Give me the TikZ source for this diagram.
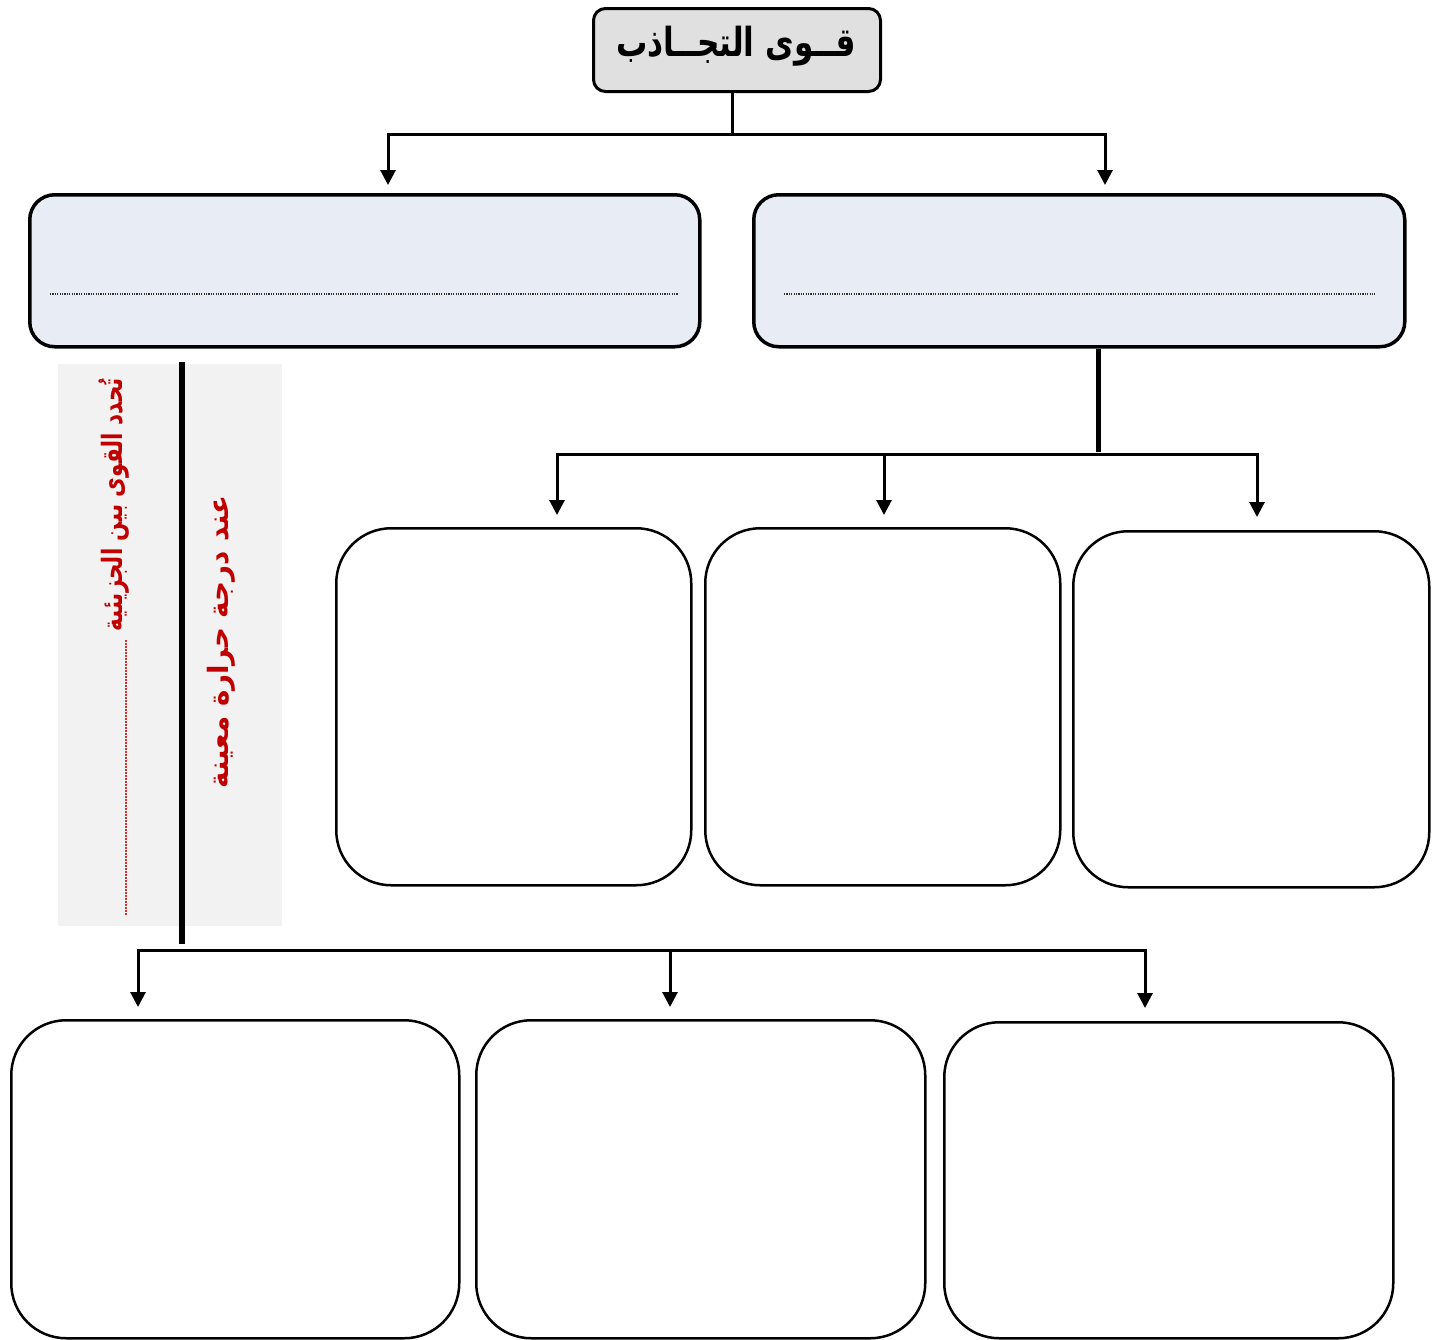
\documentclass[tikz,border=0pt]{standalone}
\usepackage{fontspec}
\TeXXeTstate=1
\newfontfamily\arabicfont[Script=Arabic]{DejaVu Sans}
\usetikzlibrary{arrows.meta,calc}
\definecolor{titlefill}{HTML}{E0E0E0}
\definecolor{bluefill}{HTML}{E8EDF5}
\definecolor{panelfill}{HTML}{F2F2F2}
\definecolor{darkred}{HTML}{C00000}
\definecolor{dotgray}{HTML}{303030}
\tikzset{
  titlebox/.style={draw, line width=3pt, fill=titlefill, rounded corners=12pt, anchor=north west, inner sep=0pt},
  bluebox/.style={draw, line width=3.5pt, fill=bluefill, rounded corners=25pt, anchor=north west, inner sep=0pt},
  whitebox/.style={draw, line width=2.5pt, fill=white, rounded corners=55pt, anchor=north west, inner sep=0pt},
  conn/.style={line width=3pt, -{Triangle[length=15pt,width=15pt]}},
  plainline/.style={line width=3pt},
  fillline/.style={draw=dotgray, line width=1.5pt, dash pattern=on 1.2pt off 1.2pt},
  redtext/.style={text=darkred, rotate=90, inner sep=0pt, font=\arabicfont\bfseries\fontsize{28}{30}\selectfont}
}
\begin{document}
\begin{tikzpicture}[x=1pt,y=-1pt]
\useasboundingbox (0,0) rectangle (1438,1339);
\fill[white] (0,0) rectangle (1438,1339);

% title
\node[titlebox, minimum width=287pt, minimum height=83pt] (title) at (592,7) {};
\node[font=\arabicfont\bfseries\fontsize{40}{46}\selectfont] (titletext) at (736,46) {\scalebox{0.78}[1]{\beginR قــوى التجــاذب\endR}};

% second row
\node[bluebox, minimum width=670pt, minimum height=152pt] (lbox) at (28,193) {};
\node[bluebox, minimum width=651pt, minimum height=152pt] (rbox) at (752,193) {};
\draw[fillline] (50,294) -- (678,294);
\draw[fillline] (784,294) -- (1375,294);

% connectors from title
\coordinate (j1) at (732,134);
\coordinate (a1) at (388,185);
\coordinate (a2) at (1105,185);
\draw[plainline] (title.south -| j1) -- (j1);
\draw[conn] (j1) -| (a1);
\draw[conn] (j1) -| (a2);

% right branch boxes
\node[whitebox, minimum width=355pt, minimum height=357pt] (r1) at (335,527) {};
\node[whitebox, minimum width=355pt, minimum height=357pt] (r2) at (704,527) {};
\node[whitebox, minimum width=356pt, minimum height=356pt] (r3) at (1072,530) {};
\coordinate (j2) at (1098,454);
\coordinate (b1) at (557,515);
\coordinate (b2) at (884,515);
\coordinate (b3) at (1257,517);
\draw[line width=5pt] (rbox.south -| j2) -- (1098,452);
\draw[conn] (j2) -| (b1);
\draw[conn] (j2) -| (b2);
\draw[conn] (j2) -| (b3);

% side panel
\fill[panelfill] (58,364) rectangle (282,926);
\node[redtext] (t1) at (114,505) {\scalebox{0.77}[1]{\beginR تُحدد القوى بين الجزيئية\endR}};
\draw[darkred!80, line width=1.5pt, dash pattern=on 1.5pt off 1.5pt] (126,640) -- (126,915);
\node[redtext] (t2) at (221,642) {\scalebox{0.99}[1]{\beginR عند درجة حرارة معينة\endR}};
\draw[line width=6pt] (182,362) -- (182,944);

% bottom boxes
\node[whitebox, minimum width=448pt, minimum height=318pt] (d1) at (10,1019) {};
\node[whitebox, minimum width=449pt, minimum height=318pt] (d2) at (475,1019) {};
\node[whitebox, minimum width=449pt, minimum height=316pt] (d3) at (943,1021) {};
\coordinate (j3) at (182,950);
\coordinate (c1) at (138,1007);
\coordinate (c2) at (670,1007);
\coordinate (c3) at (1145,1008);
\draw[conn] (j3) -| (c1);
\draw[conn] (j3) -| (c2);
\draw[conn] (j3) -| (c3);
\end{tikzpicture}
\end{document}
